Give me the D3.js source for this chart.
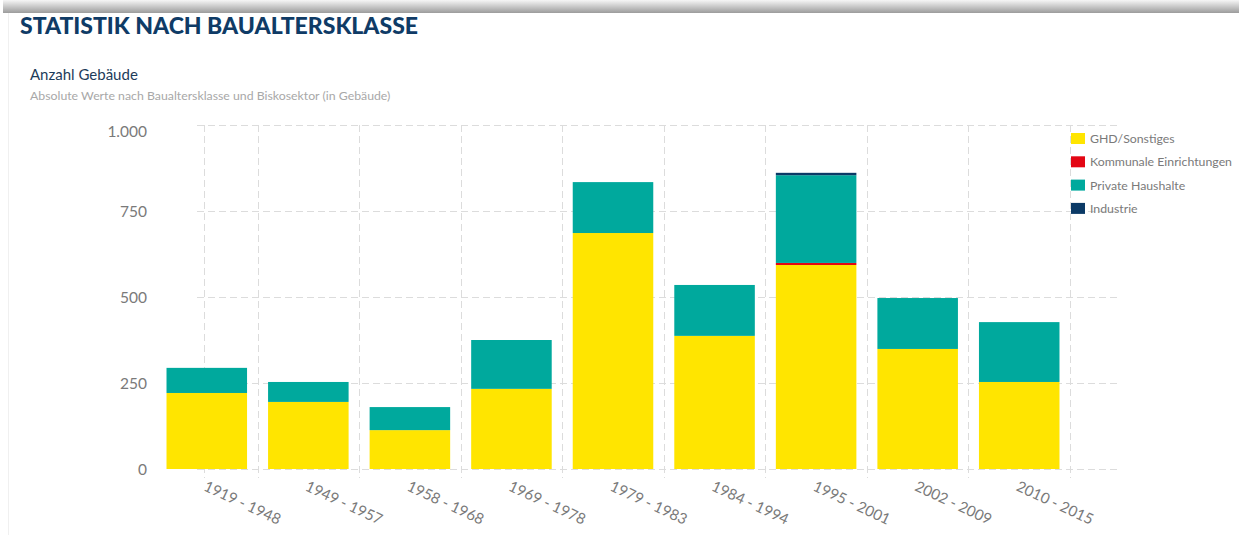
<!DOCTYPE html>
<html>
<head>
<meta charset="utf-8">
<script src="https://cdn.jsdelivr.net/npm/d3@7"></script>
<style>
  body { margin: 0; background: #fff; font-family: Lato, "Open Sans", sans-serif; }
  svg text { font-family: Lato, "Open Sans", sans-serif; }
</style>
</head>
<body>
<svg id="chart" width="1239" height="535"></svg>
<script>
// categories
var periods = ['1919 - 1948', '1949 - 1957', '1958 - 1968', '1969 - 1978',
    '1979 - 1983', '1984 - 1994', '1995 - 2001', '2002 - 2009', '2010 - 2015'];

// series values (buildings)
var ghd = [221, 195, 113, 233, 686, 387, 593, 349, 253];
var kommunal = [0, 0, 0, 0, 0, 0, 6, 0, 0];
var privat = [73, 58, 67, 142, 148, 148, 255, 148, 174];
var industrie = [0, 0, 0, 0, 0, 0, 7, 0, 0];

var seriesNames = ['GHD/Sonstiges', 'Kommunale Einrichtungen', 'Private Haushalte', 'Industrie'];
var yTicks = [0, 250, 500, 750, 1000];

var C = {
    colors: ['#ffe500', '#e30613', '#00a99d', '#0b3a66'],
    title: '#0f3b66',
    grid: '#dcdcdc',
    label: '#7a7a7a'
};

var svg = d3.select('#chart');

//top shadow band
var defs = svg.append('defs');
var grad = defs.append('linearGradient')
    .attr('id', 'topShade').attr('x1', 0).attr('x2', 0).attr('y1', 0).attr('y2', 1);
grad.append('stop').attr('offset', '0%').attr('stop-color', '#f6f6f6');
grad.append('stop').attr('offset', '100%').attr('stop-color', '#9c9c9c');
svg.append('rect').attr('x', 3).attr('y', 0).attr('width', 1236).attr('height', 13)
    .attr('fill', 'url(#topShade)');
svg.append('line').attr('x1', 8.5).attr('x2', 8.5).attr('y1', 13).attr('y2', 535)
    .attr('stroke', '#f0f0f0');

//titles
svg.append('text').attr('x', 20).attr('y', 34)
    .attr('fill', C.title).style('font-size', '23px').style('font-weight', 900)
    .text('STATISTIK NACH BAUALTERSKLASSE');
svg.append('text').attr('x', 30).attr('y', 80)
    .attr('fill', '#1d3c5a').style('font-size', '15px')
    .text('Anzahl Gebäude');
svg.append('text').attr('x', 30).attr('y', 100)
    .attr('fill', '#a8a8a8').style('font-size', '12.3px')
    .text('Absolute Werte nach Baualtersklasse und Biskosektor (in Gebäude)');

//scales
var x = d3.scaleBand().domain(periods).range([156, 1070])
    .paddingInner(0.207).paddingOuter(0.1035);
var y = d3.scaleLinear().domain([0, 1000]).range([469, 125]);
var gap = x.step() * x.paddingInner();

var grid = svg.append('g').attr('class', 'grid');
grid.selectAll('line.h').data(yTicks).enter().append('line')
    .attr('class', 'h')
    .attr('x1', 197).attr('x2', 1120)
    .attr('y1', function (d) { return y(d) + 0.5; })
    .attr('y2', function (d) { return y(d) + 0.5; })
    .attr('stroke', C.grid).attr('stroke-dasharray', '7,4');

var vLines = [204].concat(periods.map(function (d) { return x(d) + x.bandwidth() + gap / 2; }));
grid.selectAll('line.v').data(vLines).enter().append('line')
    .attr('class', 'v')
    .attr('x1', function (d) { return Math.round(d) + 0.5; })
    .attr('x2', function (d) { return Math.round(d) + 0.5; })
    .attr('y1', y(1000)).attr('y2', y(0) + 9)
    .attr('stroke', C.grid).attr('stroke-dasharray', '7,4');

//y axis labels (top one is pushed down a little, as in the original)
var yAxis = d3.axisLeft(y).tickValues(yTicks).tickSize(0).tickPadding(0)
    .tickFormat(function (d) { return d3.format(',')(d).replace(/,/g, '.'); });
svg.append('g').attr('transform', 'translate(147,0)').call(yAxis)
    .call(function (g) {
        g.select('.domain').remove();
        g.selectAll('text').attr('fill', C.label).style('font-size', '15.5px')
            .attr('dy', function (d) { return d === 1000 ? '0.72em' : '0.34em'; });
    });

//stacked bars
var rows = periods.map(function (p, i) {
    return { period: p, s0: ghd[i], s1: kommunal[i], s2: privat[i], s3: industrie[i] };
});
var stack = d3.stack().keys(['s0', 's1', 's2', 's3'])(rows);

svg.append('g').selectAll('g').data(stack).enter().append('g')
    .attr('fill', function (d, i) { return C.colors[i]; })
    .selectAll('rect').data(function (d) { return d; }).enter().append('rect')
    .filter(function (d) { return d[1] > d[0]; })
    .attr('x', function (d) { return x(d.data.period); })
    .attr('width', x.bandwidth())
    .attr('y', function (d) { return y(d[1]); })
    .attr('height', function (d) { return y(d[0]) - y(d[1]); });

//x labels
var xAxis = d3.axisBottom(x).tickSize(0).tickPadding(0);
svg.append('g').attr('transform', 'translate(0,' + y(0) + ')').call(xAxis)
    .call(function (g) {
        g.select('.domain').remove();
        g.selectAll('text')
            .attr('fill', C.label).style('font-size', '15px')
            .attr('text-anchor', 'start')
            .attr('dy', 0).attr('y', 0)
            .attr('transform', 'translate(-4,21) rotate(25)');
    });

//legend
var legend = svg.append('g').attr('transform', 'translate(1071,133)');
var item = legend.selectAll('g').data(seriesNames).enter().append('g')
    .attr('transform', function (d, i) { return 'translate(0,' + (i * 23.3) + ')'; });
item.append('rect').attr('width', 14).attr('height', 11)
    .attr('fill', function (d, i) { return C.colors[i]; });
item.append('text').attr('x', 19).attr('y', 10)
    .attr('fill', C.label).style('font-size', '12.3px')
    .text(function (d) { return d; });
</script>
</body>
</html>
